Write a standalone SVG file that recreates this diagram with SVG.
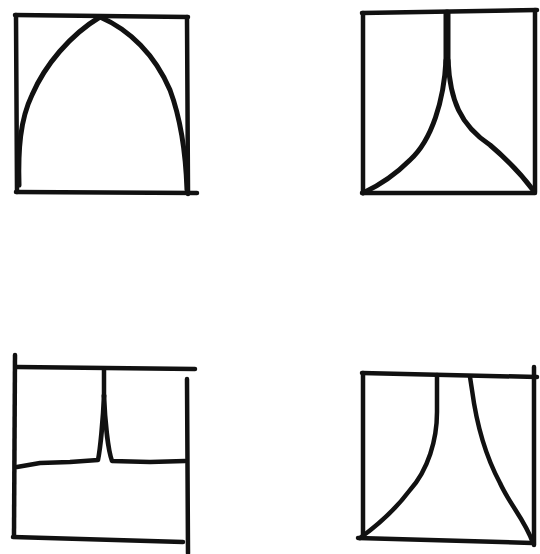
<svg xmlns="http://www.w3.org/2000/svg" width="540" height="554" viewBox="0 0 540 554">
<style>
.s{fill:none;stroke:#111;stroke-width:4.5;stroke-linecap:round;stroke-linejoin:round}
.t{fill:none;stroke:#111;stroke-width:5;stroke-linecap:round;stroke-linejoin:round}
</style>
<rect width="540" height="554" fill="#fff"/>
<g id="arch">
<path class="s" d="M15,15 L188,17"/>
<path class="s" d="M16,15 L17,192"/>
<path class="s" d="M16,192 L197,193"/>
<path class="s" d="M187,17 L188,194"/>
<path class="t" d="M19,185 C18,150 20,120 32,95 C45,65 70,35 100,17 C130,30 155,55 170,90 C183,125 186,160 187,190"/>
</g>
<g id="spire">
<path class="s" d="M362,13 L537,10"/>
<path class="s" d="M535,10 L535,192"/>
<path class="s" d="M363,13 L363,193"/>
<path class="s" d="M362,193 L535,193"/>
<path class="t" d="M447,13 L447,63" style="stroke-width:7"/>
<path class="t" d="M446,60 C444,100 432,140 410,160 C395,175 380,185 363,193"/>
<path class="t" d="M448,60 C450,100 460,125 490,145 C510,162 522,175 533,190"/>
</g>
<g id="spike">
<path class="s" d="M17,367 L195,369"/>
<path class="s" d="M15,355 L14,535"/>
<path class="s" d="M13,537 L183,542"/>
<path class="s" d="M187,379 L188,553"/>
<path class="s" d="M104,370 L104,397"/>
<path class="s" d="M104,395 C103,420 100,450 98,460 L70,462 L40,463 L17,467"/>
<path class="s" d="M104,395 C105,420 108,450 112,461 L150,462 L185,461"/>
</g>
<g id="flare">
<path class="s" d="M362,373 L537,377"/>
<path class="s" d="M534,367 L534,545"/>
<path class="s" d="M363,373 L363,537"/>
<path class="s" d="M358,538 L532,543"/>
<path class="s" d="M437,375 L437,412 C437,440 428,470 410,490 C395,510 378,525 360,538"/>
<path class="s" d="M470,377 L472,390 C476,420 485,455 500,483 C510,505 525,520 533,543"/>
</g>
</svg>
